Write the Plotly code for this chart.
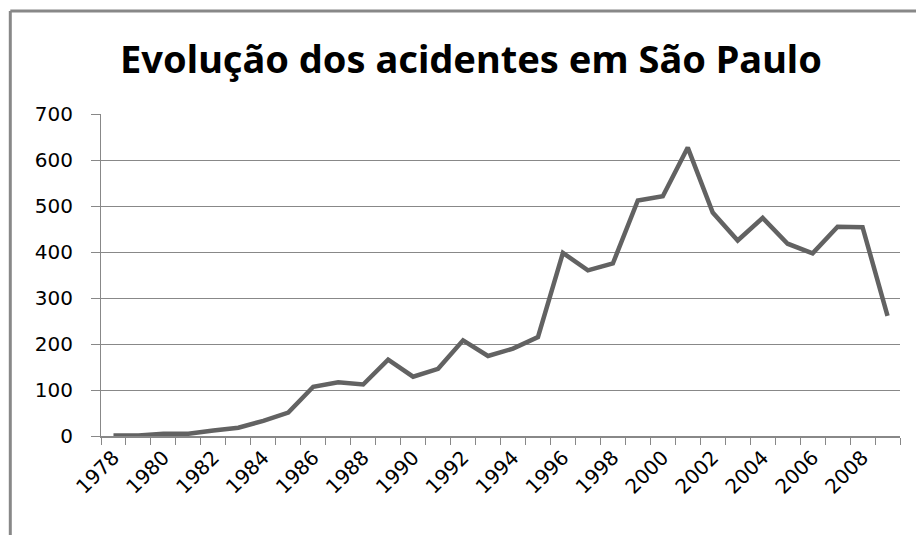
import plotly.graph_objects as go

years = list(range(1978, 2010))
acidentes = [1, 1, 5, 5, 12, 18, 33, 51, 107, 117, 112, 166,
             129, 146, 208, 174, 190, 215, 398, 360, 375, 512, 521, 627,
             486, 425, 474, 418, 397, 455, 454, 261]
tick_years = list(range(1978, 2009, 2))
tick_labels = [str(y) for y in tick_years]
y_ticks = list(range(0, 701, 100))

title_text = "Evolução dos acidentes em São Paulo"

# the page body has an 8px margin, so layout pixel values are offset by -8
fig = go.Figure()
fig.add_trace(go.Scatter(
    x=years, y=acidentes, mode="lines",
    line=dict(color="#626262", width=4.5),
    showlegend=False, hoverinfo="x+y",
))

axis_grey = "#888888"
L, T, W, H = 93, 106, 799, 322
fig.update_layout(
    width=924, height=535,
    margin=dict(l=L, r=924 - L - W, t=T, b=535 - T - H),
    paper_bgcolor="white", plot_bgcolor="white",
    title=dict(
        text=title_text,
        font=dict(family="Noto Sans", size=38, color="black", weight="bold"),
        x=463 / 924, xref="container", xanchor="center",
        y=1 - 52 / 535, yref="container", yanchor="middle",
    ),
    xaxis=dict(
        range=[1977.5, 2009.5],
        tickmode="array", tickvals=tick_years, ticktext=tick_labels,
        tickangle=-45,
        ticks="", showgrid=False,
        showline=True, linecolor=axis_grey, linewidth=2,
        tickfont=dict(family="DejaVu Sans", size=20, color="black"),
        minor=dict(tickmode="linear", tick0=1977.5, dtick=1,
                   ticks="outside", ticklen=7, tickcolor=axis_grey,
                   tickwidth=1, showgrid=False),
        ticklabelstandoff=0,
        zeroline=False, fixedrange=True,
    ),
    yaxis=dict(
        range=[0, 700],
        tickmode="array", tickvals=y_ticks,
        ticks="outside", ticklen=9, tickcolor=axis_grey, tickwidth=1,
        showgrid=True, gridcolor=axis_grey, gridwidth=1,
        showline=True, linecolor=axis_grey, linewidth=1,
        tickfont=dict(family="DejaVu Sans", size=20, color="black"),
        ticklabelstandoff=14,
        zeroline=False, fixedrange=True,
    ),
    shapes=[
        dict(type="line", xref="paper", yref="paper",
             x0=(2.3 - L) / W, x1=1.2,
             y0=(T + H - 3) / H, y1=(T + H - 3) / H,
             line=dict(color="#888888", width=3)),
        dict(type="line", xref="paper", yref="paper",
             x0=(2.3 - L) / W, x1=(2.3 - L) / W,
             y0=(T + H - 3) / H, y1=-0.5,
             line=dict(color="#888888", width=3)),
    ],
)

fig.write_html("out.html")
